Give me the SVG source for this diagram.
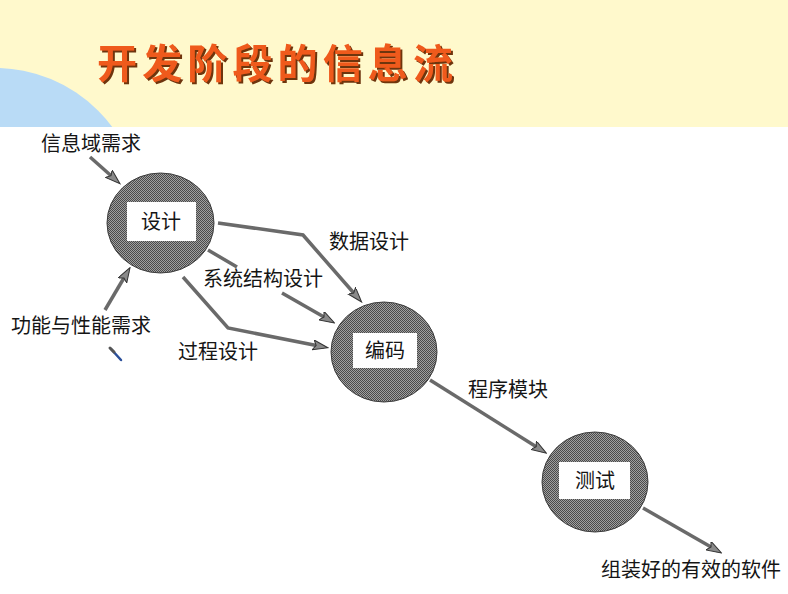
<svg xmlns="http://www.w3.org/2000/svg" width="788" height="594" viewBox="0 0 788 594">
<defs>
<style>
.lbl{font-family:"Noto Sans CJK SC","Noto Sans",sans-serif;font-size:20px;fill:#151515;text-anchor:middle}
.node{stroke:#3c3c3c;stroke-width:1;fill:url(#hatch)}
.box{fill:#ffffff}
.flow{fill:none;stroke:#6a6a6a;stroke-width:3.5;stroke-linejoin:miter}
</style>
<pattern id="hatch" width="2" height="2" patternUnits="userSpaceOnUse">
<rect width="2" height="2" fill="#a0a0a0"/>
<rect width="1" height="1" fill="#4a4a4a"/>
<rect x="1" y="1" width="1" height="1" fill="#4a4a4a"/>
</pattern>
<marker id="ah" markerUnits="userSpaceOnUse" markerWidth="16" markerHeight="12" refX="11" refY="5" orient="auto">
<path d="M0,0 L15,5 L0,10 L3,5 Z" fill="#8a8a8a" stroke="#333" stroke-width="1"/>
</marker>
<clipPath id="band"><rect x="0" y="0" width="788" height="127"/></clipPath>
<filter id="shadow" x="-5%" y="-20%" width="110%" height="140%">
<feDropShadow dx="2" dy="2" stdDeviation="0.6" flood-color="#6e3410" flood-opacity="1"/>
</filter>
</defs>

<rect width="788" height="594" fill="#ffffff"/>
<rect x="0" y="0" width="788" height="127" fill="#fff9cc"/>
<circle cx="-5" cy="214" r="146" fill="#b9dbf6" clip-path="url(#band)"/>

<g id="title">
<text x="97" y="78" font-family="'Noto Sans CJK SC',sans-serif" font-size="40" font-weight="bold" fill="#ef5a1c" textLength="356" lengthAdjust="spacing" filter="url(#shadow)">开发阶段的信息流</text>
</g>

<g id="connectors">
<path class="flow" d="M90,157 L117,181" marker-end="url(#ah)"/>
<path class="flow" d="M105,310 L128,271" marker-end="url(#ah)"/>
<path class="flow" d="M218,223 L303,235 L359,299" marker-end="url(#ah)"/>
<path class="flow" d="M208,250 L237,267"/>
<path class="flow" d="M282,293 L331,321" marker-end="url(#ah)"/>
<path class="flow" d="M183,277 L228,328 L324,347" marker-end="url(#ah)"/>
<path class="flow" d="M430,380 L543,451" marker-end="url(#ah)"/>
<path class="flow" d="M643,508 L718,551" marker-end="url(#ah)"/>
</g>

<g id="design">
<ellipse class="node" cx="160.5" cy="223" rx="53.5" ry="50"/>
<rect class="box" x="127" y="202" width="69" height="39"/>
<text class="lbl" x="161" y="229">设计</text>
</g>

<g id="coding">
<ellipse class="node" cx="384" cy="352" rx="53" ry="50"/>
<rect class="box" x="353" y="333" width="64" height="35"/>
<text class="lbl" x="385" y="358">编码</text>
</g>

<g id="testing">
<ellipse class="node" cx="595" cy="482" rx="53" ry="50"/>
<rect class="box" x="559" y="462" width="71" height="37"/>
<text class="lbl" x="595" y="488">测试</text>
</g>

<g id="labels">
<text class="lbl" x="91" y="151">信息域需求</text>
<text class="lbl" x="81" y="333">功能与性能需求</text>
<text class="lbl" x="263" y="286">系统结构设计</text>
<text class="lbl" x="218" y="359">过程设计</text>
<text class="lbl" x="369" y="249">数据设计</text>
<text class="lbl" x="508" y="397">程序模块</text>
<text class="lbl" x="691" y="577">组装好的有效的软件</text>
</g>

<g id="cursor">
<path d="M111,349 L121,360" stroke="#2a4f9a" stroke-width="2.5" stroke-linecap="round"/>
<path d="M110,348 L114,352" stroke="#555" stroke-width="3" stroke-linecap="round"/>
</g>
</svg>
